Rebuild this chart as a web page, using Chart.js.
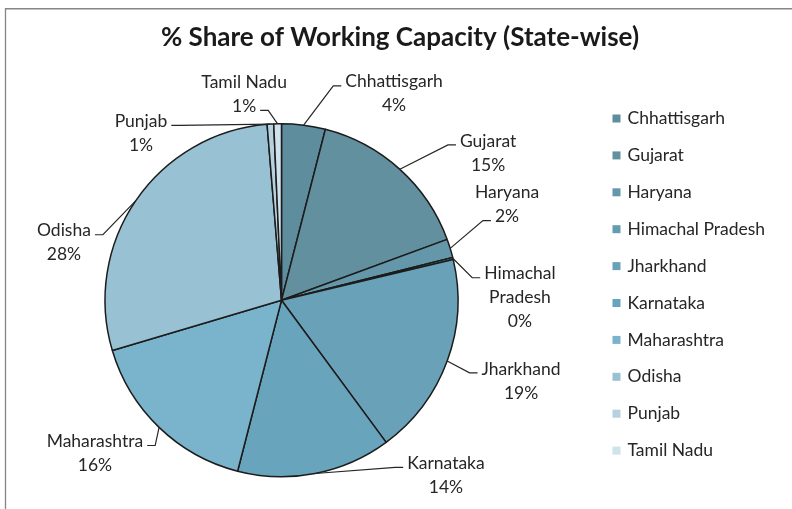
<!DOCTYPE html>
<html><head><meta charset="utf-8">
<script src="https://cdn.jsdelivr.net/npm/chart.js@4"></script>
<style>html,body{margin:0;padding:0;background:#fff;}#wrap{width:792px;height:509px;position:relative;}canvas{display:block;}</style>
</head><body><div id="wrap"><canvas id="c" width="792" height="509"></canvas></div>
<script>
// ---- data ----
const categories = ['Chhattisgarh','Gujarat','Haryana','Himachal Pradesh','Jharkhand','Karnataka','Maharashtra','Odisha','Punjab','Tamil Nadu'];
const sharePercent = [4.0, 15.4, 1.7, 0.2, 18.6, 14.1, 16.4, 28.3, 0.6, 0.7];
const sliceColors = ['#5e8d9e','#63909f','#6497a9','#669cb0','#68a1b8','#69a4bd','#7ab3cc','#98c1d3','#b8d1de','#d0e2eb'];
const chartTitle = '% Share of Working Capacity (State-wise)';

const FONT = 'Lato, "Liberation Sans", sans-serif';
const TEXT_COLOR = '#262626';

const framePlugin = {
  id: 'frame',
  beforeDraw(chart, args, opts) {
    const ctx = chart.ctx;
    ctx.save();
    ctx.fillStyle = '#ffffff';
    ctx.fillRect(0, 0, chart.width, chart.height);
    ctx.strokeStyle = '#858585';
    ctx.lineWidth = 1.3;
    ctx.beginPath();
    ctx.moveTo(5.5, chart.height + 2);
    ctx.lineTo(5.5, 8.75);
    ctx.lineTo(chart.width + 2, 8.75);
    ctx.stroke();
    // title
    ctx.fillStyle = '#1a1a1a';
    ctx.font = 'bold ' + opts.titleSize + 'px ' + FONT;
    ctx.textAlign = 'center';
    ctx.textBaseline = 'middle';
    ctx.fillText(opts.title, opts.titleX, opts.titleY);
    ctx.restore();
  }
};

function wrapName(ctx, name, maxW) {
  if (ctx.measureText(name).width <= maxW || name.indexOf(' ') < 0) return [name];
  return name.split(' ');
}

const labelPlugin = {
  id: 'outLabels',
  afterDatasetsDraw(chart, args, opts) {
    const meta = chart.getDatasetMeta(0);
    const ds = chart.data.datasets[0].data;
    const total = ds.reduce((a, b) => a + b, 0);
    const ctx = chart.ctx;
    ctx.save();
    ctx.font = opts.size + 'px ' + FONT;
    ctx.textAlign = 'center';
    ctx.textBaseline = 'middle';
    ctx.strokeStyle = '#262626';
    ctx.lineWidth = 1.2;
    meta.data.forEach((arc, i) => {
      const p = arc.getProps(['x','y','startAngle','endAngle','outerRadius'], true);
      const mid = (p.startAngle + p.endAngle) / 2;
      const px = p.x + Math.cos(mid) * p.outerRadius;
      const py = p.y + Math.sin(mid) * p.outerRadius;
      const pl = opts.placements[i];
      const a = (pl[0] - 90) * Math.PI / 180;
      const lx = p.x + Math.cos(a) * pl[1] * p.outerRadius;
      const ly = p.y + Math.sin(a) * pl[1] * p.outerRadius;
      const lines = wrapName(ctx, chart.data.labels[i], 120).concat([Math.round(ds[i] / total * 100) + '%']);
      const lh = opts.lineHeight;
      const top = ly - (lines.length - 1) * lh / 2;
      ctx.fillStyle = TEXT_COLOR;
      lines.forEach((t, k) => ctx.fillText(t, lx, top + k * lh));
      const w = ctx.measureText(lines[pl[2]]).width;
      const ay = top + pl[2] * lh + 4;
      const toRight = px < lx;
      const ex = toRight ? lx - w / 2 - 4 : lx + w / 2 + 4;
      const bx = toRight ? ex - 8 : ex + 8;
      ctx.beginPath();
      ctx.moveTo(px, py);
      ctx.lineTo(bx, ay);
      ctx.lineTo(ex, ay);
      ctx.stroke();
    });
    ctx.restore();
  }
};

const legendPlugin = {
  id: 'sideLegend',
  afterDraw(chart, args, opts) {
    const ctx = chart.ctx;
    const ds = chart.data.datasets[0];
    ctx.save();
    ctx.font = opts.size + 'px ' + FONT;
    ctx.textAlign = 'left';
    ctx.textBaseline = 'middle';
    chart.data.labels.forEach((lab, i) => {
      const y = opts.top + i * opts.step;
      ctx.fillStyle = ds.backgroundColor[i];
      ctx.fillRect(opts.x, y - 4, 8, 8);
      ctx.fillStyle = TEXT_COLOR;
      ctx.fillText(lab, opts.x + 15, y);
    });
    ctx.restore();
  }
};

new Chart(document.getElementById('c'), {
  type: 'pie',
  data: {
    labels: categories,
    datasets: [{
      data: sharePercent,
      backgroundColor: sliceColors,
      borderColor: '#1c1c1c',
      borderWidth: 1.5
    }]
  },
  options: {
    responsive: false,
    animation: false,
    layout: { padding: { left: 12, right: 241, top: 123, bottom: 31.5 } },
    plugins: {
      legend: { display: false },
      tooltip: { enabled: false },
      title: { display: false },
      frame: { title: chartTitle, titleSize: 26, titleX: 400, titleY: 38 },
      outLabels: {
        size: 17.5,
        lineHeight: 24,
        placements: [[28.6,1.332,0],[54.5,1.438,0],[67.0,1.388,1],[89.4,1.351,0],[108.6,1.432,0],[136.8,1.361,0],[230.6,1.368,0],[284.8,1.275,0],[319.9,1.236,0],[349.7,1.185,1]]
      },
      sideLegend: { size: 17.5, x: 612.5, top: 118.5, step: 36.9 }
    }
  },
  plugins: [framePlugin, labelPlugin, legendPlugin]
});
</script></body></html>
